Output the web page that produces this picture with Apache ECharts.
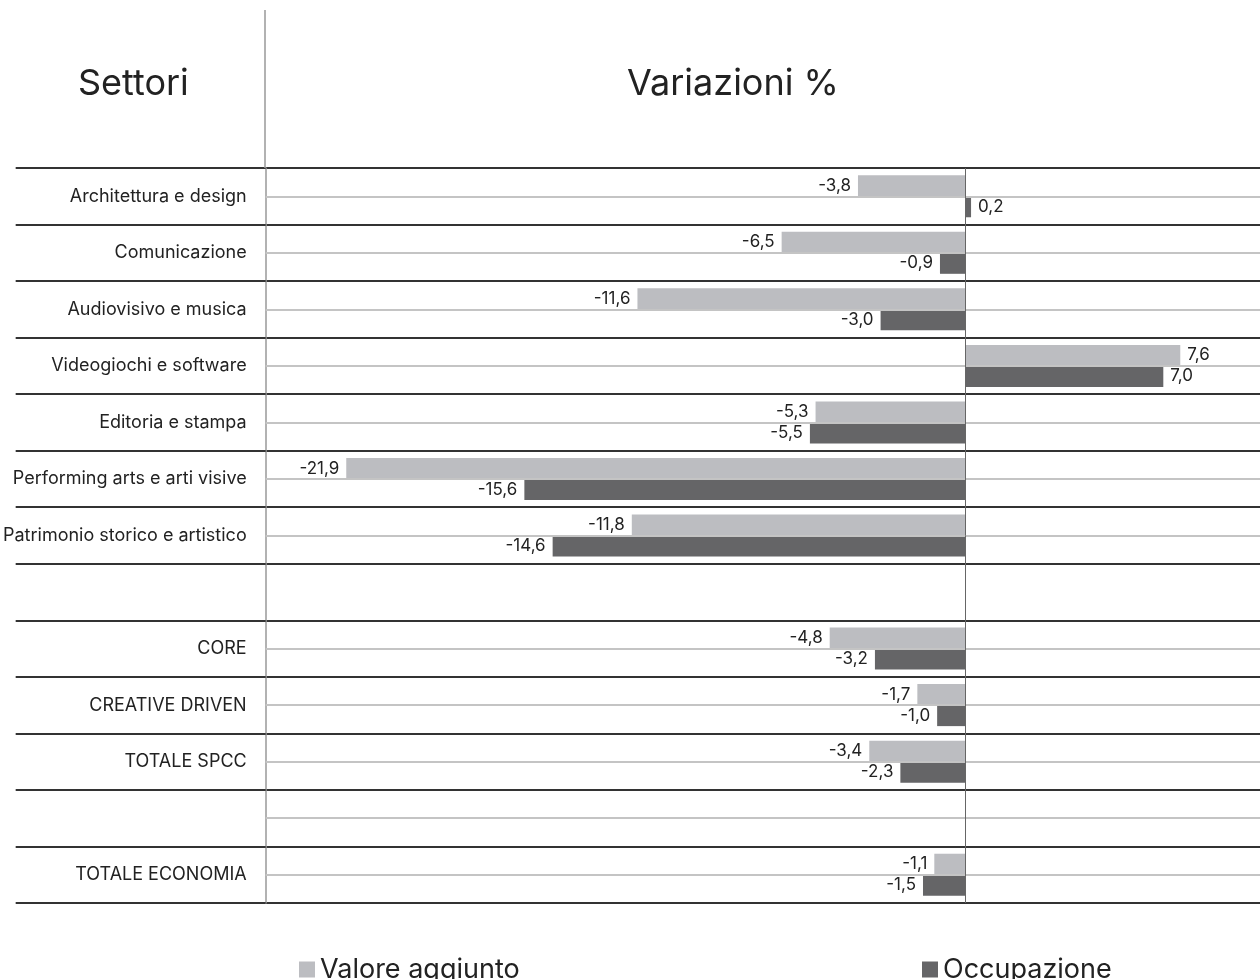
<!DOCTYPE html>
<html><head><meta charset="utf-8">
<script src="https://cdn.jsdelivr.net/npm/echarts@6/dist/echarts.min.js"></script>
<style>html,body{margin:0;padding:0;background:#fff}#c{width:1260px;height:979px}</style>
</head><body><div id="c"></div>
<script>
const categories = ['Architettura e design','Comunicazione','Audiovisivo e musica','Videogiochi e software','Editoria e stampa','Performing arts e arti visive','Patrimonio storico e artistico',' ','CORE','CREATIVE DRIVEN','TOTALE SPCC','  ','TOTALE ECONOMIA'];
const valoreAggiunto = [-3.8,-6.5,-11.6,7.6,-5.3,-21.9,-11.8,null,-4.8,-1.7,-3.4,null,-1.1];
const occupazione = [0.2,-0.9,-3.0,7.0,-5.5,-15.6,-14.6,null,-3.2,-1.0,-2.3,null,-1.5];
const midLineRows = categories.filter((c,i)=>i!==7);

const FONT = 'Inter';
function mk(arr){return arr.map(v=>v==null?'-':{value:v,label:{position:v<0?'left':'right'}});}
const lbl = {show:true,fontFamily:FONT,fontSize:17,color:'#222',backgroundColor:'#fff',padding:[1,3],distance:4,
  formatter:p=>p.value.toFixed(1).replace('.',',')};

const chart = echarts.init(document.getElementById('c'));
chart.setOption({
  animation:false,
  textStyle:{fontFamily:FONT},
  title:[
    {text:'Settori',left:73,top:61,textStyle:{fontFamily:FONT,fontSize:36,fontWeight:'normal',color:'#222'}},
    {text:'Variazioni %',left:622,top:61,textStyle:{fontFamily:FONT,fontSize:36,fontWeight:'normal',color:'#222'}}
  ],
  legend:[
    {data:['Valore aggiunto'],left:294,top:951,icon:'rect',itemWidth:16,itemHeight:16,itemGap:0,textStyle:{fontFamily:FONT,fontSize:27,color:'#222'}},
    {data:['Occupazione'],left:917,top:951,icon:'rect',itemWidth:16,itemHeight:16,itemGap:0,textStyle:{fontFamily:FONT,fontSize:27,color:'#222'}}
  ],
  grid:{left:265,right:0,top:168,bottom:76,containLabel:false},
  xAxis:{type:'value',min:-24.75,max:10.42,show:false},
  yAxis:{type:'category',data:categories,inverse:true,
    axisLine:{show:true,onZero:false,lineStyle:{color:'#999',width:1.5}},
    axisTick:{show:true,length:250,lineStyle:{color:'#333',width:2}},
    splitLine:{show:true,lineStyle:{color:'#333',width:2}},
    axisLabel:{fontFamily:FONT,fontSize:18,color:'#222',margin:19}
  },
  graphic:[{type:'line',shape:{x1:265,y1:10,x2:265,y2:168},style:{stroke:'#999',lineWidth:1.5},z:10}],
  series:[
    {name:'mid',type:'line',data:[],silent:true,z:1,
      markLine:{silent:true,symbol:'none',label:{show:false},lineStyle:{color:'#c4c4c4',width:2,type:'solid'},
        data:midLineRows.map(c=>({yAxis:c}))}},
    {name:'Valore aggiunto',type:'bar',data:mk(valoreAggiunto),barWidth:21,barGap:'0%',itemStyle:{color:'#bcbdc1'},label:lbl,z:3},
    {name:'Occupazione',type:'bar',data:mk(occupazione),barWidth:21,barGap:'0%',itemStyle:{color:'#656567'},label:lbl,z:3,
      markLine:{silent:true,symbol:'none',label:{show:false},lineStyle:{color:'#666',width:1,type:'solid'},
        data:[{xAxis:0}]}}
  ]
});
</script></body></html>
